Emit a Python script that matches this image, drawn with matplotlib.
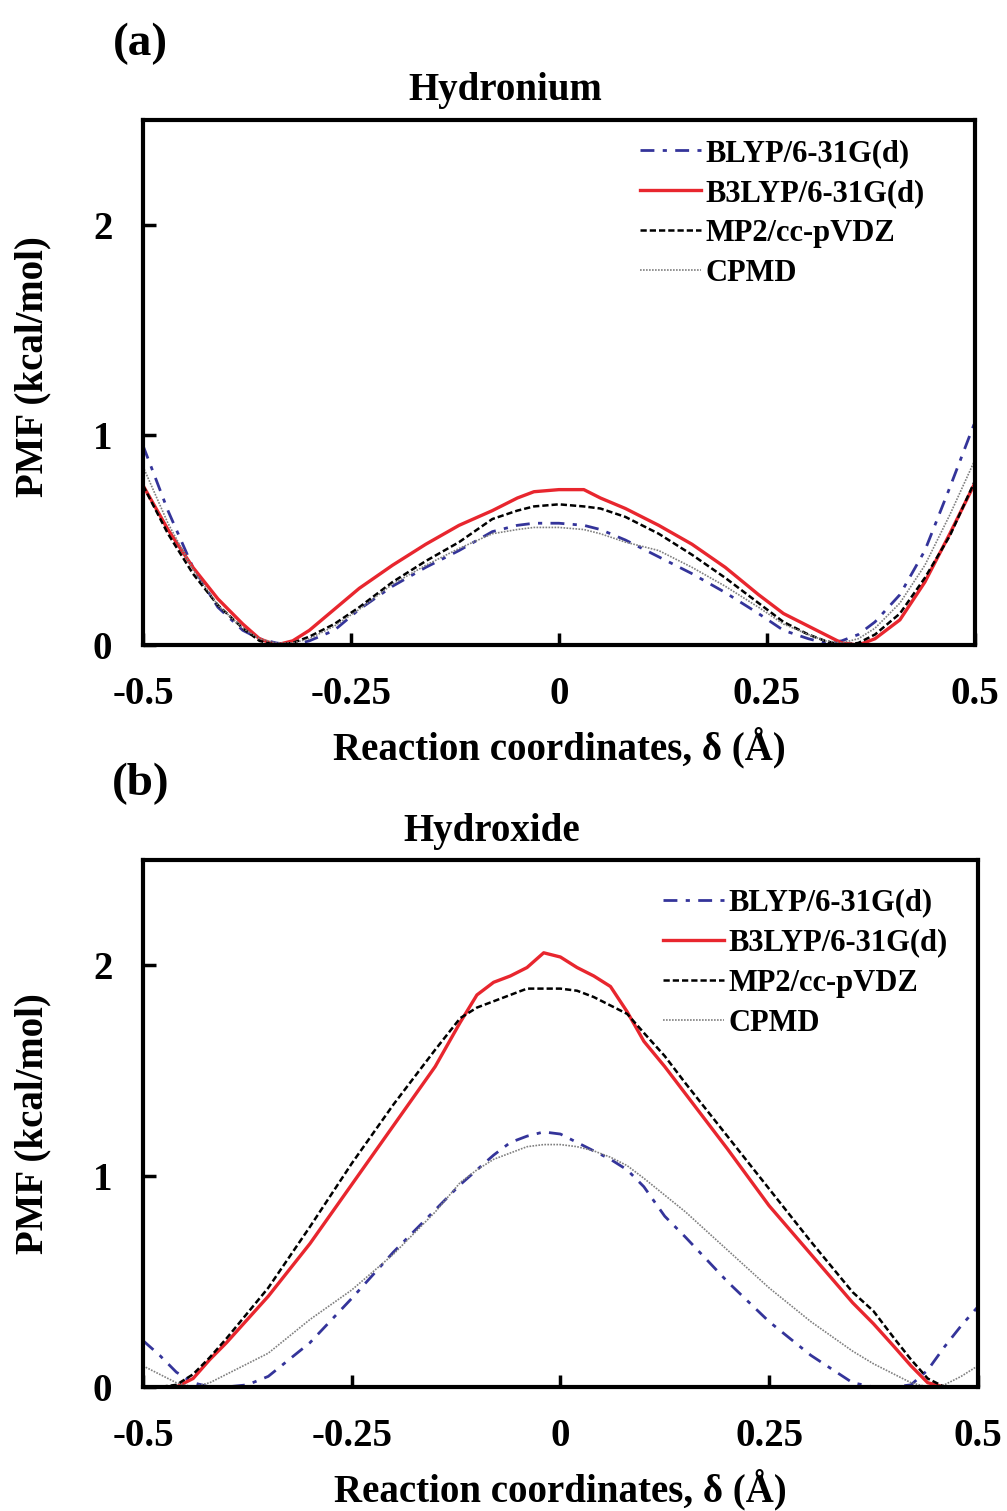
import numpy as np
import matplotlib
matplotlib.use("Agg")
import matplotlib.pyplot as plt

plt.rcParams['font.family'] = ['Liberation Serif', 'DejaVu Serif']
plt.rcParams['font.weight'] = 'bold'
plt.rcParams['axes.unicode_minus'] = False

# --- (a) Hydronium ---
xa = [-0.5, -0.47, -0.44, -0.41, -0.38, -0.36, -0.34, -0.32, -0.30, -0.27, -0.24,
      -0.20, -0.16, -0.12, -0.08, -0.05, -0.03, 0.0, 0.03, 0.05, 0.08, 0.12, 0.16,
      0.20, 0.24, 0.27, 0.30, 0.32, 0.34, 0.36, 0.38, 0.41, 0.44, 0.47, 0.5]
blyp_a = [0.95, 0.64, 0.37, 0.18, 0.07, 0.03, 0.01, 0.00, 0.02, 0.07, 0.17,
          0.28, 0.37, 0.45, 0.54, 0.57, 0.58, 0.58, 0.57, 0.55, 0.50, 0.42, 0.34,
          0.25, 0.15, 0.07, 0.03, 0.01, 0.02, 0.05, 0.11, 0.24, 0.45, 0.75, 1.06]
b3lyp_a = [0.76, 0.55, 0.37, 0.22, 0.10, 0.03, 0.00, 0.02, 0.07, 0.17, 0.27,
           0.38, 0.48, 0.57, 0.64, 0.70, 0.73, 0.74, 0.74, 0.70, 0.65, 0.57, 0.48,
           0.37, 0.24, 0.15, 0.09, 0.05, 0.01, 0.00, 0.03, 0.12, 0.30, 0.53, 0.77]
mp2_a = [0.76, 0.53, 0.34, 0.19, 0.08, 0.02, 0.00, 0.01, 0.04, 0.10, 0.18,
         0.30, 0.40, 0.49, 0.60, 0.64, 0.66, 0.67, 0.66, 0.65, 0.61, 0.53, 0.43,
         0.32, 0.20, 0.11, 0.05, 0.02, 0.00, 0.01, 0.05, 0.15, 0.32, 0.52, 0.78]
cpmd_a = [0.85, 0.58, 0.36, 0.19, 0.08, 0.03, 0.01, 0.01, 0.03, 0.09, 0.17,
          0.29, 0.38, 0.46, 0.53, 0.55, 0.56, 0.56, 0.55, 0.53, 0.49, 0.45, 0.37,
          0.28, 0.18, 0.10, 0.05, 0.02, 0.01, 0.03, 0.08, 0.20, 0.38, 0.62, 0.88]

# --- (b) Hydroxide ---
xb = [-0.5, -0.48, -0.46, -0.44, -0.42, -0.40, -0.375, -0.35, -0.30, -0.25, -0.20,
      -0.15, -0.12, -0.10, -0.08, -0.06, -0.04, -0.02, 0.0, 0.02, 0.04, 0.06, 0.08,
      0.10, 0.125, 0.15, 0.20, 0.25, 0.30, 0.35, 0.375, 0.40, 0.42, 0.44, 0.46, 0.48, 0.5]
blyp_b = [0.22, 0.15, 0.07, 0.02, 0.00, 0.00, 0.01, 0.05, 0.21, 0.42, 0.64,
          0.84, 0.96, 1.03, 1.10, 1.16, 1.19, 1.21, 1.20, 1.16, 1.12, 1.08, 1.03,
          0.95, 0.81, 0.71, 0.50, 0.31, 0.15, 0.02, 0.00, 0.00, 0.01, 0.08, 0.19, 0.29, 0.38]
b3lyp_b = [0.00, 0.00, 0.00, 0.04, 0.13, 0.21, 0.32, 0.43, 0.68, 0.96, 1.24,
           1.52, 1.73, 1.86, 1.92, 1.95, 1.99, 2.06, 2.04, 1.99, 1.95, 1.90, 1.78,
           1.64, 1.52, 1.39, 1.13, 0.86, 0.63, 0.40, 0.30, 0.19, 0.10, 0.02, 0.00, 0.00, 0.00]
mp2_b = [0.00, 0.00, 0.01, 0.06, 0.14, 0.23, 0.35, 0.47, 0.76, 1.06, 1.34,
         1.60, 1.75, 1.80, 1.83, 1.86, 1.89, 1.89, 1.89, 1.88, 1.85, 1.81, 1.77,
         1.68, 1.57, 1.44, 1.19, 0.94, 0.69, 0.45, 0.36, 0.23, 0.13, 0.04, 0.00, 0.00, 0.00]
cpmd_b = [0.10, 0.06, 0.02, 0.00, 0.02, 0.06, 0.11, 0.16, 0.32, 0.46, 0.63,
          0.83, 0.97, 1.03, 1.08, 1.11, 1.14, 1.15, 1.15, 1.14, 1.12, 1.09, 1.05,
          0.99, 0.91, 0.83, 0.65, 0.47, 0.31, 0.17, 0.11, 0.06, 0.02, 0.00, 0.01, 0.05, 0.10]

labels = ['BLYP/6-31G(d)', 'B3LYP/6-31G(d)', 'MP2/cc-pVDZ', 'CPMD']
xticks = [-0.5, -0.25, 0, 0.25, 0.5]
xticklabels = ['-0.5', '-0.25', '0', '0.25', '0.5']
yticks = [0, 1, 2]
yticklabels = ['0', '1', '2']

fig = plt.figure(figsize=(10.07, 15.11), dpi=100)
ax_a = fig.add_axes([0.142, 0.5731, 0.826, 0.3475])
ax_b = fig.add_axes([0.142, 0.0821, 0.829, 0.3487])

# axes, x, series, tag, title, title x, legend anchor, ylabel y
panels = [
    (ax_a, xa, [blyp_a, b3lyp_a, mp2_a, cpmd_a], '(a)', 'Hydronium', 0.435, (0.597, 0.964), 0.53),
    (ax_b, xb, [blyp_b, b3lyp_b, mp2_b, cpmd_b], '(b)', 'Hydroxide', 0.418, (0.623, 0.946), 0.50),
]

for ax, x, ys, tag, title, tx, legpos, ly in panels:
    ax.plot(x, ys[0], color='#34349a', lw=2.0, dashes=(5, 3, 1.5, 3), label=labels[0])
    ax.plot(x, ys[1], color='#e8262e', lw=2.4, label=labels[1])
    ax.plot(x, ys[2], color='black', lw=1.8, dashes=(2.5, 1.2), label=labels[2])
    ax.plot(x, ys[3], color='#808080', lw=1.2, dashes=(1, 0.8), label=labels[3])

    ax.set_xlim(-0.5, 0.5)
    ax.set_ylim(0, 2.5)
    ax.set_xticks(xticks)
    ax.set_xticklabels(xticklabels)
    ax.set_yticks(yticks)
    ax.set_yticklabels(yticklabels)
    ax.tick_params(direction='in', length=9, width=2.5, labelsize=28, pad=22)
    for s in ax.spines.values():
        s.set_linewidth(3)
    ax.set_xlabel('Reaction coordinates, δ (Å)', fontsize=28, fontweight='bold', labelpad=10)
    ax.set_ylabel('PMF (kcal/mol)', fontsize=28, fontweight='bold')
    ax.yaxis.set_label_coords(-0.11, ly)
    ax.text(tx, 1.02, title, transform=ax.transAxes, ha='center', va='bottom',
            fontsize=28, fontweight='bold')
    ax.text(-0.003, 1.105, tag, transform=ax.transAxes, ha='center', va='bottom',
            fontsize=34, fontweight='bold')

    ax.legend(loc='upper left', bbox_to_anchor=legpos, frameon=False,
              prop={'size': 22, 'weight': 'bold'}, handlelength=2.0,
              handletextpad=0.15, labelspacing=0.36, borderpad=0, borderaxespad=0)

plt.savefig('out.png', dpi=100)
